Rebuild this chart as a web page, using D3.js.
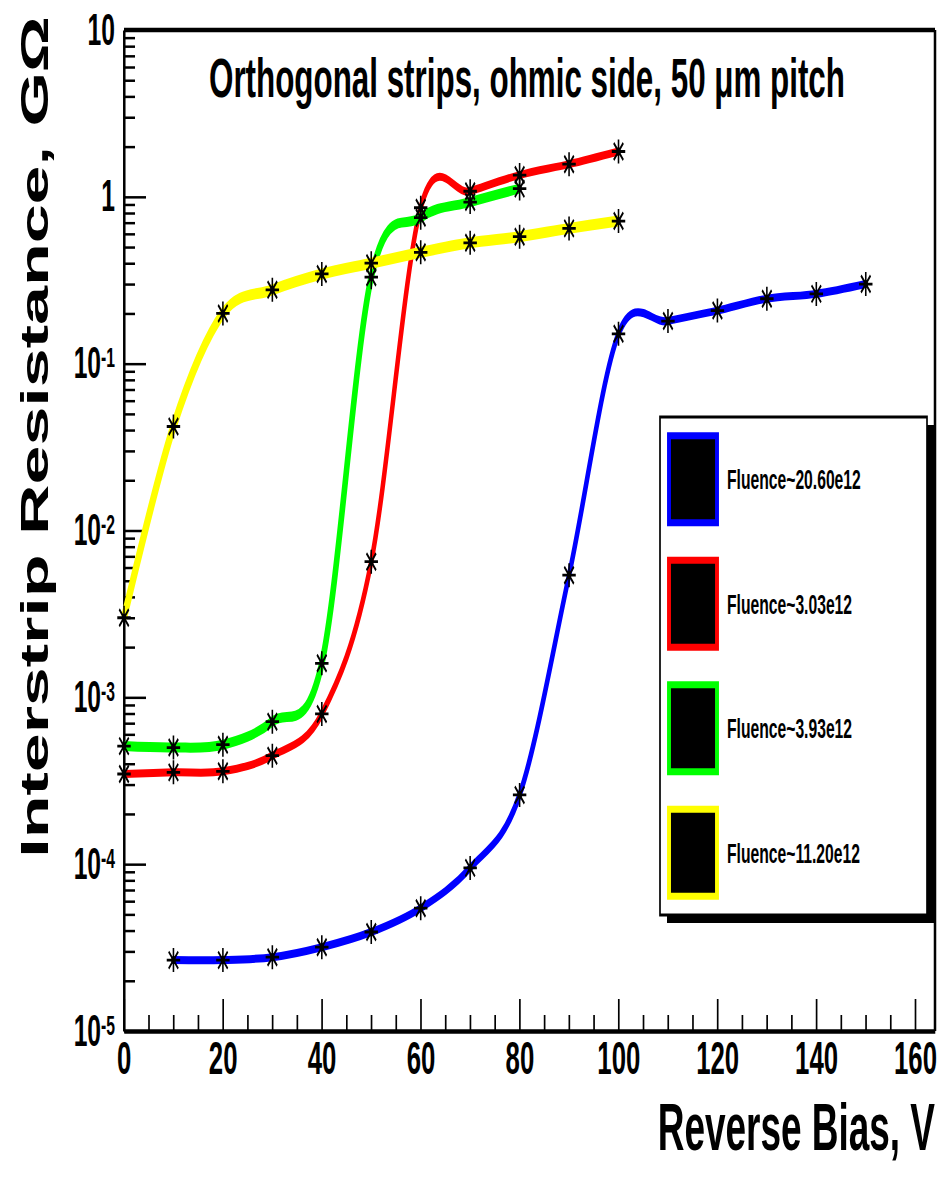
<!DOCTYPE html>
<html>
<head>
<meta charset="utf-8">
<script src="https://cdn.jsdelivr.net/npm/d3@7"></script>
<style>
  html, body { margin: 0; padding: 0; background: #fff; }
  svg { display: block; }
</style>
</head>
<body>
<svg id="chart" width="940" height="1179"></svg>
<script>
// ---- data: interstrip resistance (GOhm) vs reverse bias (V) ----
const biasBlue = [10, 20, 30, 40, 50, 60, 70, 80, 90, 100, 110, 120, 130, 140, 150];
const resBlue  = [2.66e-5, 2.66e-5, 2.77e-5, 3.18e-5, 3.92e-5, 5.45e-5, 9.5e-5, 2.6e-4, 5.4e-3, 0.151, 0.18, 0.208, 0.245, 0.262, 0.30];

const biasRed = [0, 10, 20, 30, 40, 50, 60, 70, 80, 90, 100];
const resRed  = [3.47e-4, 3.55e-4, 3.6e-4, 4.47e-4, 7.95e-4, 6.5e-3, 0.86, 1.08, 1.35, 1.57, 1.87];

const biasGreen = [0, 10, 20, 30, 40, 50, 60, 70, 80];
const resGreen  = [5.1e-4, 5.0e-4, 5.2e-4, 7.15e-4, 1.6e-3, 0.33, 0.75, 0.93, 1.12];

const biasYellow = [0, 10, 20, 30, 40, 50, 60, 70, 80, 90, 100];
const resYellow  = [3.0e-3, 0.042, 0.20, 0.277, 0.345, 0.40, 0.465, 0.53, 0.577, 0.647, 0.716];

const seriesNames  = ["Fluence~20.60e12", "Fluence~3.03e12", "Fluence~3.93e12", "Fluence~11.20e12"];
const seriesColors = ["#0000ff", "#ff0000", "#00ff00", "#ffff00"];

const xTicks      = [0, 20, 40, 60, 80, 100, 120, 140, 160];
const xTickLabels = ["0", "20", "40", "60", "80", "100", "120", "140", "160"];
const yTicks      = [1e-5, 1e-4, 1e-3, 1e-2, 1e-1, 1, 10];
const yTickBase   = ["10", "10", "10", "10", "10", "1", "10"];
const yTickExp    = ["-5", "-4", "-3", "-2", "-1", "", ""];

const titleText  = "Orthogonal strips, ohmic side, 50 \u03BCm pitch";
const xTitleText = "Reverse Bias, V";
const yTitleText = "Interstrip Resistance,  G\u03A9";

// ---- layout ----
// The canvas is drawn in a horizontally squeezed frame: all drawing happens in
// inner coordinates, then scaled by SX along x.
const SX = 0.56;
const sx = v => v / SX;                 // page x -> inner x
const FONT = '"Liberation Sans", Arial, Helvetica, sans-serif';

const frame = { left: 124, right: 935, top: 30, bottom: 1031 };

const svg = d3.select("#chart");
svg.append("rect").attr("width", 940).attr("height", 1179).attr("fill", "#fff");
const root = svg.append("g").attr("transform", `scale(${SX},1)`);

const x = d3.scaleLinear().domain([0, 164]).range([sx(frame.left), sx(frame.right)]);
const y = d3.scaleLog().domain([1e-5, 10]).range([frame.bottom, frame.top]);

// ---- frame: top and right borders ----
root.append("line")
  .attr("x1", x.range()[0]).attr("x2", x.range()[1])
  .attr("y1", y.range()[1]).attr("y2", y.range()[1])
  .attr("stroke", "#000").attr("stroke-width", 4.5);
root.append("line")
  .attr("x1", x.range()[1]).attr("x2", x.range()[1])
  .attr("y1", y.range()[0]).attr("y2", y.range()[1])
  .attr("stroke", "#000").attr("stroke-width", 4.5);

// ---- x axis ----
const xMinor = d3.range(5, 165, 5).filter(v => v % 20 !== 0 && v <= 164);
const gxMinor = root.append("g").attr("transform", `translate(0,${frame.bottom})`)
  .call(d3.axisBottom(x).tickValues(xMinor).tickSizeInner(-16).tickSizeOuter(0).tickFormat(""));
gxMinor.select(".domain").remove();
gxMinor.selectAll(".tick line").attr("stroke-width", 3);

const gx = root.append("g").attr("transform", `translate(0,${frame.bottom})`)
  .call(d3.axisBottom(x).tickValues(xTicks).tickSizeInner(-32).tickSizeOuter(0)
    .tickPadding(10).tickFormat((d, i) => xTickLabels[i]));
gx.select(".domain").attr("stroke-width", 4.5);
gx.selectAll(".tick line").attr("stroke-width", 3);
gx.selectAll(".tick text")
  .attr("font-family", FONT).attr("font-size", 46).attr("font-weight", "bold").attr("fill", "#000");

// ---- y axis (log) ----
const yMinor = [];
for (let e = -5; e < 1; e++) for (let m = 2; m <= 9; m++) yMinor.push(m * Math.pow(10, e));
const gyMinor = root.append("g").attr("transform", `translate(${x.range()[0]},0)`)
  .call(d3.axisLeft(y).tickValues(yMinor).tickSizeInner(-sx(11)).tickSizeOuter(0).tickFormat(""));
gyMinor.select(".domain").remove();
gyMinor.selectAll(".tick line").attr("stroke-width", 2.5);

const gy = root.append("g").attr("transform", `translate(${x.range()[0]},0)`)
  .call(d3.axisLeft(y).tickValues(yTicks).tickSizeInner(-sx(22)).tickSizeOuter(0)
    .tickPadding(sx(9)).tickFormat(""));
gy.select(".domain").attr("stroke-width", 4.5);
gy.selectAll(".tick line").attr("stroke-width", 2.5);
gy.selectAll(".tick text").each(function (d, i) {
  const t = d3.select(this)
    .attr("font-family", FONT).attr("font-size", 44).attr("font-weight", "bold")
    .attr("fill", "#000").text(null);
  t.append("tspan").text(yTickBase[i]);
  if (yTickExp[i]) {
    t.append("tspan").attr("font-size", 28).attr("dy", -11).text(yTickExp[i]);
  }
});

// ---- curves ----
const line = d3.line()
  .x(d => x(d[0]))
  .y(d => y(d[1]))
  .curve(d3.curveCardinal.tension(0));

const series = [
  { bias: biasBlue,   res: resBlue,   color: seriesColors[0], width: 8 },
  { bias: biasRed,    res: resRed,    color: seriesColors[1], width: 8 },
  { bias: biasGreen,  res: resGreen,  color: seriesColors[2], width: 10 },
  { bias: biasYellow, res: resYellow, color: seriesColors[3], width: 11 }
];

series.forEach(s => {
  const pts = s.bias.map((b, i) => [b, s.res[i]]);
  root.append("path")
    .datum(pts)
    .attr("d", line)
    .attr("fill", "none")
    .attr("stroke", s.color)
    .attr("stroke-width", s.width)
    .attr("stroke-linejoin", "round");
});

// ---- asterisk markers ----
const r = 12, dg = 8.5;
const starPath = `M0,${-r}L0,${r}M${-r},0L${r},0M${-dg},${-dg}L${dg},${dg}M${-dg},${dg}L${dg},${-dg}`;
series.forEach(s => {
  const pts = s.bias.map((b, i) => [b, s.res[i]]);
  const gm = root.append("g");
  gm.selectAll("path").data(pts).join("path")
    .attr("transform", d => `translate(${x(d[0])},${y(d[1])})`)
    .attr("d", starPath)
    .attr("stroke", "#000").attr("stroke-width", 2.8).attr("fill", "none");
  gm.selectAll("circle").data(pts).join("circle")
    .attr("cx", d => x(d[0])).attr("cy", d => y(d[1])).attr("r", 3.8).attr("fill", "#000");
});

// ---- legend ----
const leg = { x0: 660, y0: 417, x1: 927, y1: 915 };
root.append("rect")
  .attr("x", sx(leg.x0 + 7)).attr("y", leg.y0 + 8)
  .attr("width", sx(leg.x1 - leg.x0)).attr("height", leg.y1 - leg.y0)
  .attr("fill", "#000");
root.append("rect")
  .attr("x", sx(leg.x0)).attr("y", leg.y0)
  .attr("width", sx(leg.x1 - leg.x0)).attr("height", leg.y1 - leg.y0)
  .attr("fill", "#fff").attr("stroke", "#000").attr("stroke-width", 3);

const rowH = (leg.y1 - leg.y0) / seriesNames.length;
seriesNames.forEach((name, i) => {
  const cy = leg.y0 + rowH * (i + 0.5);
  root.append("rect")
    .attr("x", sx(669)).attr("y", cy - 43.5)
    .attr("width", sx(48)).attr("height", 87)
    .attr("fill", "#000").attr("stroke", seriesColors[i]).attr("stroke-width", 7);
  root.append("text")
    .attr("x", sx(727)).attr("y", cy + 10)
    .attr("font-family", FONT).attr("font-size", 28).attr("font-weight", "bold")
    .attr("fill", "#000")
    .text(name);
});

// ---- titles ----
root.append("text")
  .attr("x", sx(527)).attr("y", 97)
  .attr("text-anchor", "middle")
  .attr("font-family", FONT).attr("font-size", 56).attr("font-weight", "bold")
  .attr("fill", "#000")
  .text(titleText);

root.append("text")
  .attr("x", sx(935)).attr("y", 1150)
  .attr("text-anchor", "end")
  .attr("font-family", FONT).attr("font-size", 66).attr("font-weight", "bold")
  .attr("fill", "#000")
  .text(xTitleText);

root.append("text")
  .attr("transform", `translate(${sx(48)},16) rotate(-90)`)
  .attr("text-anchor", "end")
  .attr("font-family", FONT).attr("font-size", 70).attr("font-weight", "bold")
  .attr("fill", "#000")
  .text(yTitleText);
</script>
</body>
</html>
